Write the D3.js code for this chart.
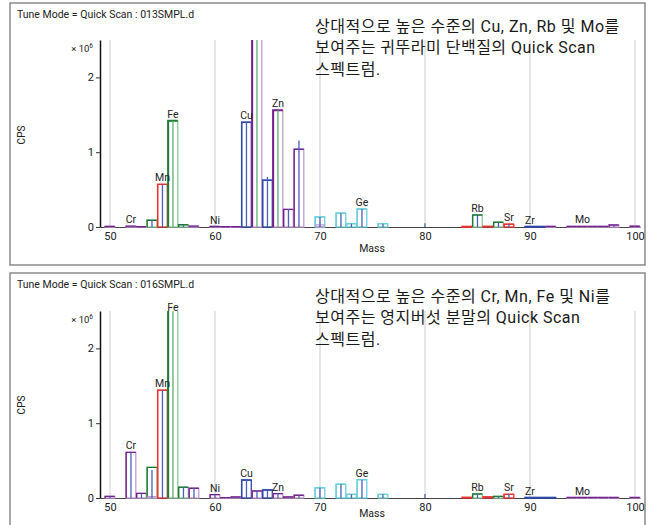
<!DOCTYPE html>
<html>
<head>
<meta charset="utf-8">
<script src="https://cdn.jsdelivr.net/npm/d3@7/dist/d3.min.js"></script>
<style>
  html, body { margin: 0; padding: 0; background: #fff; }
  svg { display: block; font-family: Roboto, "Noto Sans", sans-serif; }
</style>
</head>
<body>
<svg id="chart" width="650" height="525"></svg>
<script>
// ---- Scan 013SMPL.d : cricket protein ----
const masses1   = [50, 52, 53, 54, 55, 56, 57, 58, 60, 61, 62, 63, 64, 65, 66, 67, 68, 70, 72, 73, 74, 76, 80, 84, 85, 86, 87, 88, 90, 91, 92, 94, 95, 96, 97, 98, 100];
const species1  = ["Cr","Cr","Cr","Fe","Mn","Fe","Fe","Ni","Ni","Ni","Ni","Cu","Zn","Cu","Zn","Zn","Zn","Ge","Ge","Ge","Ge","Ge","Se","Sr","Rb","Sr","Rb","Sr","Zr","Zr","Mo","Mo","Mo","Mo","Mo","Mo","Mo"];
const cps1      = [8000, 12000, 4000, 90000, 570000, 1420000, 30000, 12000, 6000, 4000, 4000, 1400000, 3300000, 625000, 1560000, 235000, 1040000, 135000, 185000, 45000, 240000, 45000, 0, 6000, 160000, 8000, 63000, 36000, 6000, 6000, 8000, 8000, 8000, 8000, 8000, 27000, 10000];
const peakCps1  = [8000, 12000, 4000, 90000, 570000, 1420000, 30000, 12000, 6000, 4000, 4000, 1400000, 3300000, 670000, 1560000, 240000, 1155000, 135000, 185000, 45000, 240000, 45000, 50000, 6000, 160000, 8000, 63000, 36000, 6000, 6000, 8000, 8000, 8000, 8000, 8000, 27000, 10000];
const detector1 = ["P","P","P","P","P","A","P","P","P","P","P","P","A","P","A","P","P","P","P","P","P","P","P","P","P","P","P","P","P","P","P","P","P","P","P","P","P"];
// overlapping minor isotope traces: mass, species, cps
const minorMass1 = [70];
const minorSpecies1 = ["Zn"];
const minorCps1 = [30000];

// ---- Scan 016SMPL.d : reishi mushroom powder ----
const masses2   = [50, 52, 53, 54, 55, 56, 57, 58, 60, 61, 62, 63, 64, 65, 66, 67, 68, 70, 72, 73, 74, 76, 80, 84, 85, 86, 87, 88, 90, 91, 92, 94, 95, 96, 97, 98, 100];
const species2  = ["Cr","Cr","Cr","Fe","Mn","Fe","Fe","Ni","Ni","Ni","Ni","Cu","Zn","Cu","Zn","Zn","Zn","Ge","Ge","Ge","Ge","Ge","Se","Sr","Rb","Sr","Rb","Sr","Zr","Zr","Zr","Mo","Mo","Mo","Mo","Mo","Mo"];
const cps2      = [22000, 610000, 62000, 410000, 1440000, 3300000, 143000, 130000, 45000, 5000, 13000, 240000, 94000, 107000, 58000, 13000, 36000, 138000, 183000, 49000, 245000, 49000, 0, 8000, 54000, 13000, 22000, 49000, 6000, 6000, 6000, 6000, 6000, 6000, 6000, 6000, 6000];
const peakCps2  = [22000, 610000, 62000, 375000, 1440000, 3300000, 143000, 130000, 45000, 5000, 13000, 240000, 94000, 107000, 58000, 13000, 36000, 138000, 183000, 49000, 245000, 49000, 54000, 8000, 54000, 13000, 22000, 49000, 6000, 6000, 6000, 6000, 6000, 6000, 6000, 6000, 6000];
const detector2 = ["P","P","P","P","P","A","P","P","P","P","P","P","P","P","P","P","P","P","P","P","P","P","P","P","P","P","P","P","P","P","P","P","P","P","P","P","P"];
const minorMass2 = [54];
const minorSpecies2 = ["Cr"];
const minorCps2 = [20000];

// element labels and the mass they sit over
const labelText = ["Cr", "Mn", "Fe", "Ni", "Cu", "Zn", "Ge", "Rb", "Sr", "Zr", "Mo"];
const labelMass = [52, 55, 56, 60, 63, 66, 74, 85, 88, 90, 95];

const xTicks = [50, 60, 70, 80, 90, 100];
const yTicks = [0, 1e6, 2e6];

const titles = ["Tune Mode = Quick Scan : 013SMPL.d", "Tune Mode = Quick Scan : 016SMPL.d"];
const notes = [
  ["상대적으로 높은 수준의 Cu, Zn, Rb 및 Mo를", "보여주는 귀뚜라미 단백질의 Quick Scan", "스펙트럼."],
  ["상대적으로 높은 수준의 Cr, Mn, Fe 및 Ni를", "보여주는 영지버섯 분말의 Quick Scan", "스펙트럼."]
];

// colours per element trace
const PURPLE = { main: "#74208a", tint: "#c69ad2" };
const GREEN  = { main: "#1d7a35", tint: "#8fc89c" };
const RED    = { main: "#f2302c", tint: "#f2302c" };
const BLUE   = { main: "#3048a8", tint: "#3048a8" };
const CYAN   = { main: "#6ccfdd", tint: "#6ccfdd" };
const elementColour = {
  Cr: PURPLE, Ni: PURPLE, Zn: PURPLE, Mo: PURPLE,
  Fe: GREEN, Rb: GREEN,
  Mn: RED, Sr: RED,
  Cu: BLUE, Zr: BLUE, Se: BLUE,
  Ge: CYAN
};
const detectorColour = { P: "#4860bb", A: "#5fae74" };

const svg = d3.select("#chart");

const panels = [
  { boxTop: 3, boxH: 262, top: 40, zero: 227, tickY: 5, massY: 252, cpsY: 135,
    masses: masses1, species: species1, cps: cps1, peak: peakCps1, det: detector1,
    minorMass: minorMass1, minorSpecies: minorSpecies1, minorCps: minorCps1 },
  { boxTop: 273, boxH: 262, top: 311, zero: 498, tickY: 5, massY: 517, cpsY: 405,
    masses: masses2, species: species2, cps: cps2, peak: peakCps2, det: detector2,
    minorMass: minorMass2, minorSpecies: minorSpecies2, minorCps: minorCps2 }
];

panels.forEach((p, i) => {
  const g = svg.append("g");
  const x = d3.scaleLinear().domain([49.05, 100.48]).range([100, 640]);
  const y = d3.scaleLinear().domain([0, 2.5e6]).range([p.zero, p.top]);

  // frame
  g.append("rect")
    .attr("x", 10).attr("y", p.boxTop).attr("width", 635).attr("height", p.boxH)
    .attr("fill", "none").attr("stroke", "#8a8a8a").attr("stroke-width", 1.5);

  g.append("text")
    .attr("x", 17).attr("y", p.boxTop + 15)
    .attr("font-size", 10.5).attr("fill", "#222")
    .text(titles[i]);

  // vertical grid
  g.append("g").selectAll("line").data(xTicks).join("line")
    .attr("x1", d => x(d)).attr("x2", d => x(d))
    .attr("y1", p.top).attr("y2", p.zero)
    .attr("stroke", "#dedede").attr("stroke-width", 1.5);

  // x axis
  const xAxis = g.append("g").attr("transform", `translate(0,${p.zero})`)
    .call(d3.axisBottom(x).tickValues(xTicks).tickSize(0).tickSizeOuter(0).tickPadding(p.tickY).tickFormat(d3.format("d")));
  xAxis.select(".domain").attr("stroke", "#444").attr("stroke-width", 1.2);
  xAxis.selectAll("text").attr("font-size", 11).attr("fill", "#222").attr("font-family", "Roboto, sans-serif");

  g.append("text")
    .attr("x", 372).attr("y", p.massY)
    .attr("text-anchor", "middle").attr("font-size", 10.5).attr("fill", "#222")
    .text("Mass");

  // bars, clipped to the plotting area
  const clipId = "plotclip" + i;
  g.append("clipPath").attr("id", clipId)
    .append("rect").attr("x", 100).attr("y", p.top).attr("width", 542).attr("height", p.zero - p.top + 3);
  const plot = g.append("g").attr("clip-path", `url(#${clipId})`);

  const rows = p.masses.map((m, k) => ({ m, sp: p.species[k], v: p.cps[k], pk: p.peak[k], det: p.det[k] }));
  const half = 0.46;

  const bar = plot.selectAll("g.bar").data(rows.filter(d => d.v > 0)).join("g").attr("class", "bar");
  bar.append("rect")
    .attr("x", d => x(d.m - half)).attr("y", d => y(d.v))
    .attr("width", d => x(d.m + half) - x(d.m - half))
    .attr("height", d => Math.max(0.6, y(0) - y(d.v)))
    .attr("fill", "none")
    .attr("stroke", d => elementColour[d.sp].tint).attr("stroke-width", 1.3);
  bar.append("path")
    .attr("d", d => `M${x(d.m - half)},${y(0)}V${y(d.v)}H${x(d.m + half)}`)
    .attr("fill", "none")
    .attr("stroke", d => elementColour[d.sp].main)
    .attr("stroke-width", d => d.det === "A" ? 2 : 1.4);

  // minor overlapping traces
  const minor = p.minorMass.map((m, k) => ({ m, sp: p.minorSpecies[k], v: p.minorCps[k] }));
  plot.selectAll("rect.minor").data(minor).join("rect").attr("class", "minor")
    .attr("x", d => x(d.m - 0.4)).attr("y", d => y(d.v))
    .attr("width", d => x(d.m + 0.4) - x(d.m - 0.4))
    .attr("height", d => y(0) - y(d.v))
    .attr("fill", d => elementColour[d.sp].tint).attr("fill-opacity", 0.35)
    .attr("stroke", d => elementColour[d.sp].tint).attr("stroke-width", 1);

  // peak centre lines (pulse / analog detector)
  plot.selectAll("line.peak").data(rows.filter(d => d.pk > 0)).join("line").attr("class", "peak")
    .attr("x1", d => x(d.m)).attr("x2", d => x(d.m))
    .attr("y1", y(0)).attr("y2", d => y(d.pk))
    .attr("stroke", d => detectorColour[d.det]).attr("stroke-width", 1.3);

  // y axis
  const yAxis = g.append("g").attr("transform", "translate(100,0)")
    .call(d3.axisLeft(y).tickValues(yTicks).tickSize(4).tickSizeOuter(0).tickPadding(2).tickFormat(d => d / 1e6));
  yAxis.select(".domain").attr("stroke", "#111").attr("stroke-width", 1.5);
  yAxis.selectAll(".tick line").attr("stroke", "#333");
  yAxis.selectAll("text").attr("font-size", 11).attr("fill", "#222").attr("font-family", "Roboto, sans-serif");

  const mult = g.append("text").attr("x", 93).attr("y", p.top + 12)
    .attr("text-anchor", "end").attr("font-size", 9.5).attr("fill", "#222");
  mult.append("tspan").text("× 10");
  mult.append("tspan").attr("font-size", 6.5).attr("dy", -4).text("6");

  g.append("text")
    .attr("transform", `translate(25,${p.cpsY}) rotate(-90)`)
    .attr("text-anchor", "middle").attr("font-size", 10).attr("fill", "#222")
    .text("CPS");

  // element labels
  const labels = labelText.map((t, k) => {
    const row = rows.find(r => r.m === labelMass[k]);
    const top = row ? Math.max(row.v, row.pk) : 0;
    return { t, m: labelMass[k], top };
  });
  g.selectAll("text.elem").data(labels).join("text").attr("class", "elem")
    .attr("x", d => x(d.m))
    .attr("y", d => Math.max(y(d.top) - 3, p.top))
    .attr("text-anchor", "middle").attr("font-size", 10.5).attr("fill", "#222")
    .text(d => d.t);

  // annotation
  const note = g.append("text")
    .attr("x", 315).attr("y", p.boxTop + 29)
    .attr("font-family", "Roboto, 'Noto Sans CJK KR', sans-serif")
    .attr("font-size", 16).attr("letter-spacing", 0.5).attr("fill", "#1a1a1a");
  notes[i].forEach((line, k) => {
    note.append("tspan").attr("x", 315).attr("dy", k === 0 ? 0 : 21.3).text(line);
  });
});
</script>
</body>
</html>
